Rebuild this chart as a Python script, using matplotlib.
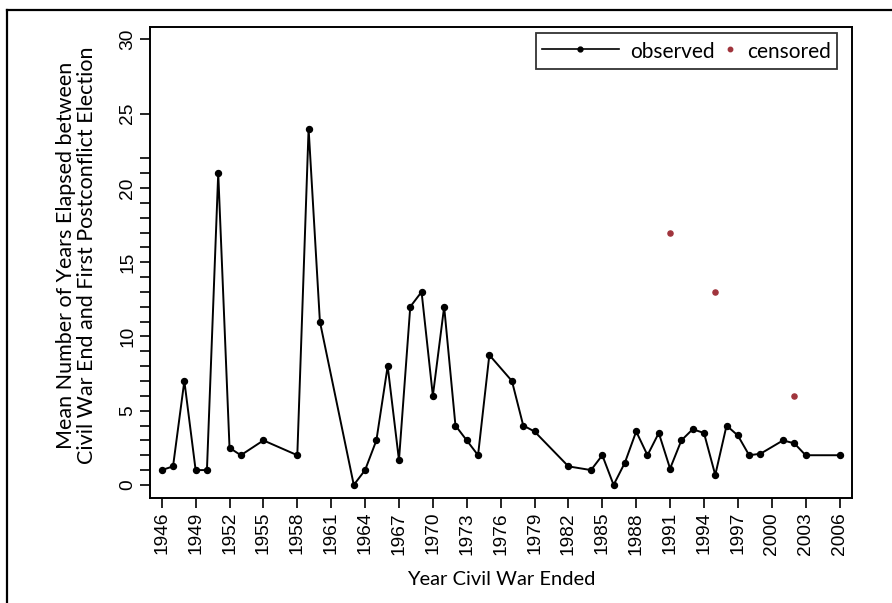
import matplotlib
matplotlib.use("Agg")
import matplotlib.pyplot as plt
from matplotlib.lines import Line2D
from matplotlib.legend_handler import HandlerLine2D

# ---- data ----
obs_years = [1946, 1947, 1948, 1949, 1950, 1951, 1952, 1953, 1955, 1958, 1959, 1960,
             1963, 1964, 1965, 1966, 1967, 1968, 1969, 1970, 1971, 1972, 1973, 1974,
             1975, 1977, 1978, 1979, 1982, 1984, 1985, 1986, 1987, 1988, 1989, 1990,
             1991, 1992, 1993, 1994, 1995, 1996, 1997, 1998, 1999, 2001, 2002, 2003, 2006]
obs_vals = [1, 1.25, 7, 1, 1, 21, 2.5, 2, 3, 2, 24, 11,
            0, 1, 3, 8, 1.67, 12, 13, 6, 12, 4, 3, 2,
            8.75, 7, 4, 3.6, 1.25, 1, 2, 0, 1.5, 3.6, 2, 3.5,
            1.1, 3, 3.75, 3.5, 0.67, 4, 3.33, 2, 2.1, 3, 2.8, 2, 2]
cens_years = [1991, 1995, 2002]
cens_vals = [17, 13, 6]

x_ticks = list(range(1946, 2007, 3))
y_ticks = [0, 5, 10, 15, 20, 25, 30]
y_minor = [1, 2, 3, 4, 6, 7, 8, 9, 11, 12, 13, 14, 16, 17, 18, 19, 21, 22]

RED = "#A0343C"

fig = plt.figure(figsize=(8.92, 6.03), dpi=100)
ax = fig.add_axes([150 / 892, 1 - 498 / 603, (851.5 - 150) / 892, (498 - 27) / 603])

ax.plot(obs_years, obs_vals, color="black", lw=1.4, marker="o", ms=4.3,
        label="observed", zorder=3)
ax.plot(cens_years, cens_vals, ls="none", marker="o", ms=3.7, color=RED,
        mec=RED, label="censored", zorder=3)

ax.set_xlim(1944.96, 2007.06)
ax.set_ylim(-0.88, 30.84)
ax.set_xticks(x_ticks)
ax.set_xticklabels([str(t) for t in x_ticks], rotation=90,
                   fontfamily="Liberation Sans", fontsize=13.8)
ax.set_yticks(y_ticks)
ax.set_yticklabels([str(t) for t in y_ticks], rotation=90, va="center",
                   fontfamily="Liberation Sans", fontsize=13.8)
ax.set_yticks(y_minor, minor=True)
ax.tick_params(axis="both", which="both", direction="out", length=7, width=1.2,
               pad=3)

for s in ax.spines.values():
    s.set_linewidth(1.4)

ax.set_xlabel("Year Civil War Ended", fontdict=dict(family="Lato", size=14.5),
              labelpad=12)
ax.set_ylabel("Mean Number of Years Elapsed between\nCivil War End and First Postconflict Election",
              fontdict=dict(family="Lato", size=15.5), linespacing=1.05)
ax.yaxis.set_label_coords(-0.076, 0.516)


class SmallHandler(HandlerLine2D):
    def legend_artist(self, legend, orig_handle, fontsize, handlebox):
        handlebox.width = 8
        return super().legend_artist(legend, orig_handle, fontsize, handlebox)


h_obs = Line2D([], [], color="black", lw=1.2, marker="o", ms=3.5)
h_cen = Line2D([], [], ls="none", marker="o", ms=3.2, color=RED, mec=RED)
leg = ax.legend([h_obs, h_cen], ["observed", "censored"], ncol=2,
                loc="upper right", bbox_to_anchor=(837 / 892, 1 - 33 / 603),
                bbox_transform=fig.transFigure,
                prop=dict(family="Lato", size=15),
                handlelength=3.7, handleheight=1.35, handletextpad=0.55,
                columnspacing=0.45,
                borderpad=0.3, borderaxespad=0, fancybox=False,
                framealpha=1, edgecolor="#333333",
                handler_map={h_cen: SmallHandler()})
leg.get_frame().set_linewidth(1.3)

# outer frame (left and top edges)
fig.add_artist(Line2D([7 / 892, 7 / 892], [0, 1 - 10 / 603], color="black", lw=1.6,
                      transform=fig.transFigure))
fig.add_artist(Line2D([7 / 892, 1], [1 - 10 / 603, 1 - 10 / 603], color="black", lw=1.6,
                      transform=fig.transFigure))

fig.savefig("out.png", dpi=100)
